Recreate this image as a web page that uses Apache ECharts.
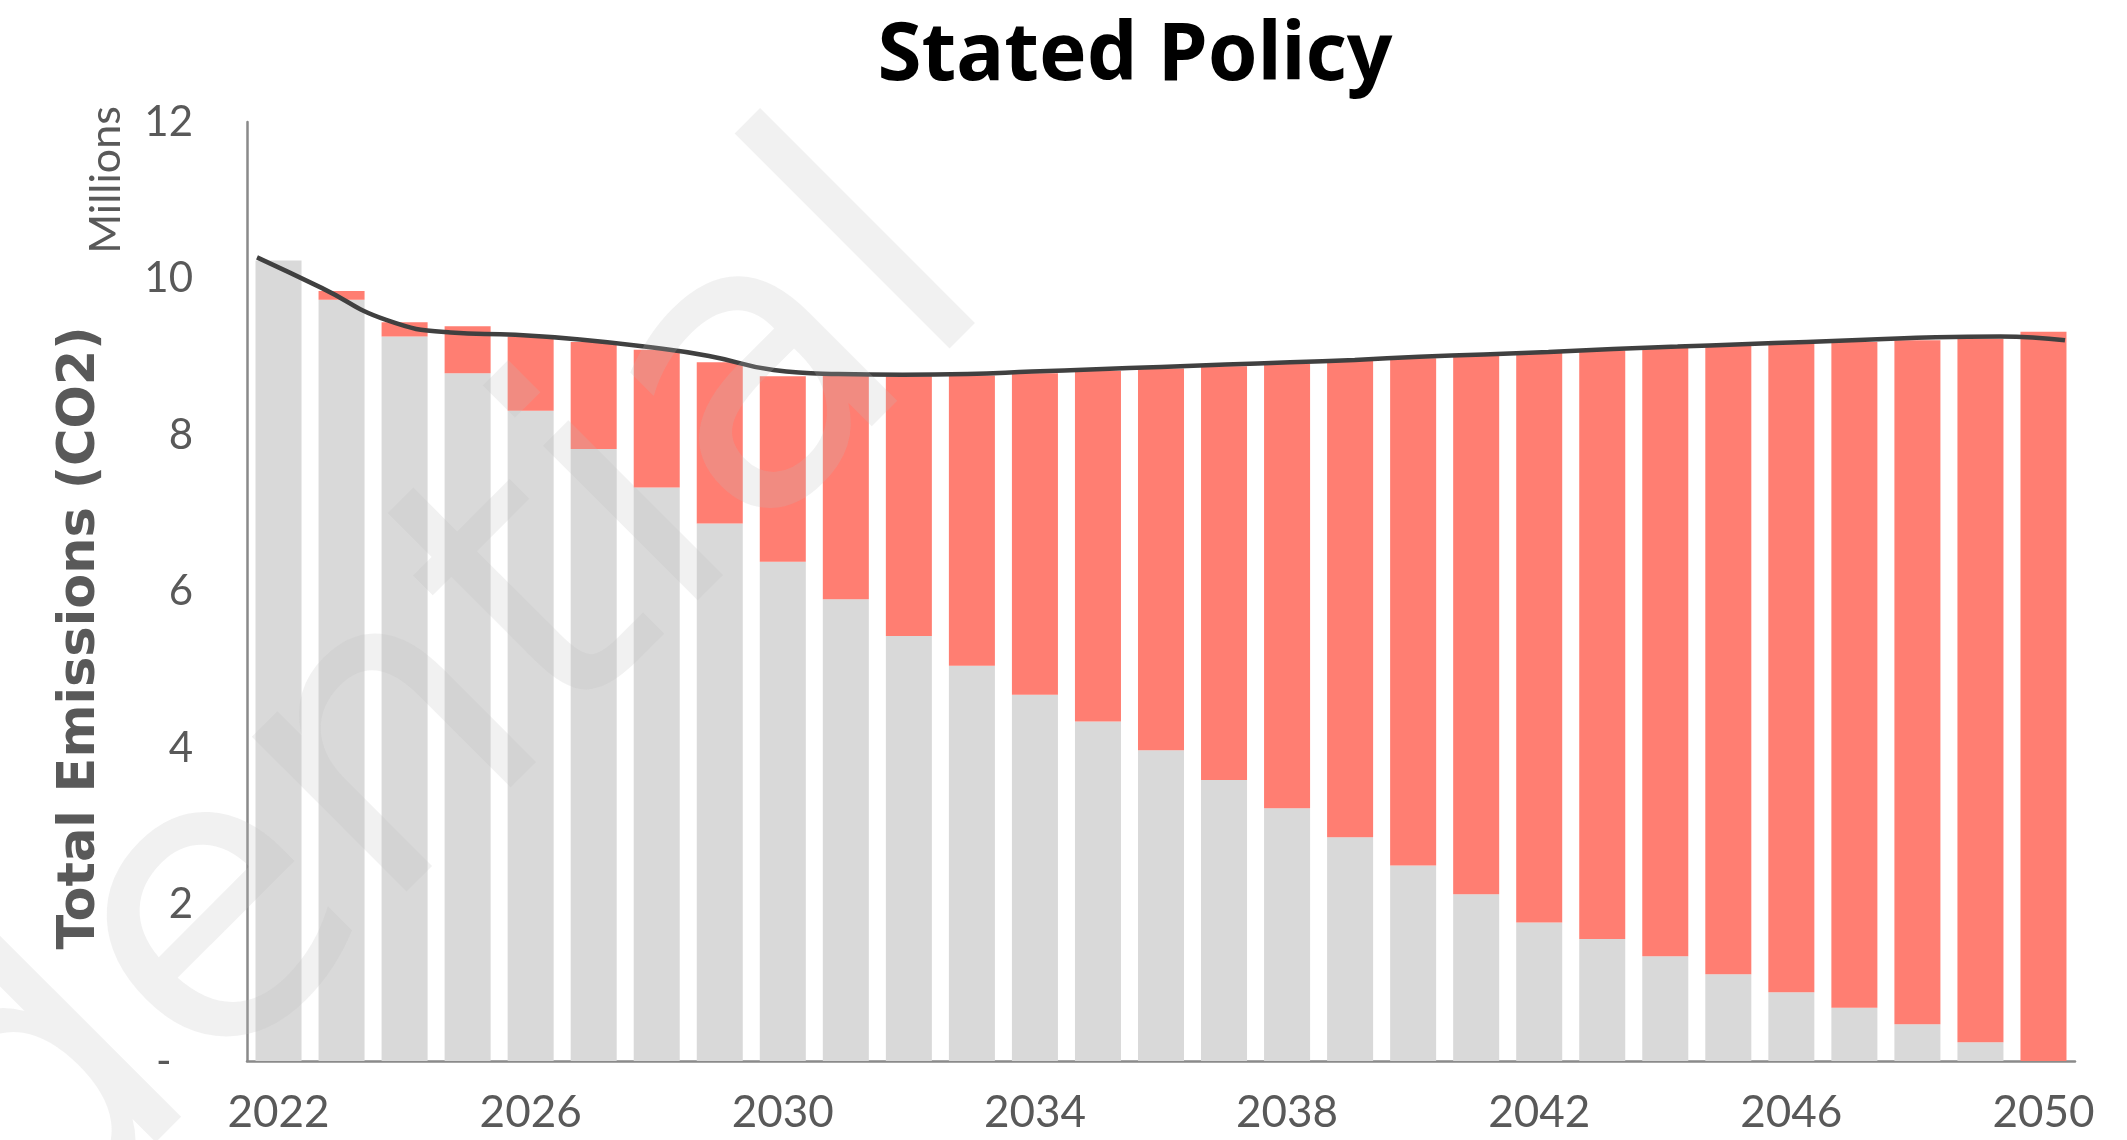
<!DOCTYPE html>
<html>
<head>
<meta charset="utf-8">
<title>Stated Policy</title>
<script src="https://cdn.jsdelivr.net/npm/echarts@6/dist/echarts.min.js"></script>
<style>
  html, body { margin: 0; padding: 0; background: #fff; }
  #box { width: 2127px; height: 1140px; }
</style>
</head>
<body>
<div id="box"></div>
<script>
// years on the category axis
var years = ['2022', '2023', '2024', '2025', '2026', '2027', '2028', '2029', '2030', '2031',
             '2032', '2033', '2034', '2035', '2036', '2037', '2038', '2039', '2040', '2041',
             '2042', '2043', '2044', '2045', '2046', '2047', '2048', '2049', '2050'];

// grey part of each bar (millions)
var greyPart = [10.23, 9.73, 9.26, 8.79, 8.31, 7.82, 7.33, 6.87, 6.38, 5.90,
                5.43, 5.05, 4.68, 4.34, 3.97, 3.59, 3.23, 2.86, 2.50, 2.13,
                1.77, 1.56, 1.34, 1.11, 0.88, 0.68, 0.47, 0.24, 0];

// red part stacked on top (millions)
var redPart = [0, 0.11, 0.18, 0.60, 0.95, 1.37, 1.76, 2.06, 2.37, 2.86,
               3.32, 3.71, 4.11, 4.48, 4.88, 5.29, 5.68, 6.09, 6.48, 6.89,
               7.28, 7.52, 7.78, 8.04, 8.29, 8.51, 8.74, 8.99, 9.32];

// dark line (millions)
var lineValues = [10.27, 9.88, 9.47, 9.31, 9.28, 9.22, 9.13, 9.01, 8.83, 8.78,
                  8.77, 8.78, 8.81, 8.84, 8.87, 8.90, 8.93, 8.96, 9.00, 9.03,
                  9.06, 9.10, 9.13, 9.16, 9.19, 9.22, 9.25, 9.26, 9.21];

var labelFont = 'Lato, "Noto Sans", sans-serif';

var myChart = echarts.init(document.getElementById('box'));
var option = {
  animation: false,
  backgroundColor: '#ffffff',
  title: {
    text: 'Stated Policy',
    left: 1130,
    top: 12,
    textAlign: 'center',
    textStyle: { fontFamily: '"Noto Sans", sans-serif', fontWeight: 'bold', fontSize: 80, color: '#000000' }
  },
  grid: [
    { left: 247, right: 52, top: 122, bottom: 79 },
    { left: 257, right: 62, top: 122, bottom: 79 }
  ],
  xAxis: [
    {
      type: 'category',
      data: years,
      gridIndex: 0,
      axisLine: { lineStyle: { color: '#8a8a8a', width: 2.5 } },
      axisTick: { show: false },
      axisLabel: {
        interval: 3,
        margin: 30,
        color: '#595959',
        fontFamily: labelFont,
        fontSize: 44
      }
    },
    {
      type: 'category',
      data: years,
      gridIndex: 1,
      boundaryGap: false,
      show: false
    }
  ],
  yAxis: [
    {
      type: 'value',
      gridIndex: 0,
      min: 0,
      max: 12,
      interval: 2,
      splitLine: { show: false },
      axisTick: { show: false },
      axisLine: { show: true, lineStyle: { color: '#8a8a8a', width: 2.5 } },
      axisLabel: {
        margin: 54,
        color: '#595959',
        fontFamily: labelFont,
        fontSize: 42,
        formatter: function (v) { return v === 0 ? '-  ' : v; }
      }
    },
    { type: 'value', gridIndex: 1, min: 0, max: 12, show: false }
  ],
  graphic: [
    {
      type: 'text',
      x: 81, y: 638,
      rotation: Math.PI / 2,
      style: {
        text: 'Total Emissions (CO2)',
        font: 'bold 51px "DejaVu Sans", sans-serif',
        fill: '#595959',
        textAlign: 'center',
        textVerticalAlign: 'middle'
      }
    },
    {
      type: 'text',
      x: 106, y: 180,
      rotation: Math.PI / 2,
      style: {
        text: 'Millions',
        font: '43px Lato, "Noto Sans", sans-serif',
        fill: '#595959',
        textAlign: 'center',
        textVerticalAlign: 'middle'
      }
    },
    {
      // faint watermark
      type: 'text',
      x: 928, y: 223,
      rotation: Math.PI / 4,
      z: 100,
      silent: true,
      style: {
        text: 'Confidential',
        font: '400px "DejaVu Sans", sans-serif',
        fill: 'rgba(188,188,188,0.21)',
        textAlign: 'right',
        textVerticalAlign: 'middle'
      }
    }
  ],
  series: [
    {
      type: 'bar',
      stack: 'total',
      data: greyPart,
      barCategoryGap: '27%',
      itemStyle: { color: '#d9d9d9' }
    },
    {
      type: 'bar',
      stack: 'total',
      data: redPart,
      itemStyle: { color: '#ff7e72' }
    },
    {
      type: 'line',
      xAxisIndex: 1,
      yAxisIndex: 1,
      data: lineValues,
      smooth: true,
      symbol: 'none',
      lineStyle: { color: '#404040', width: 4.5 },
      z: 5
    }
  ]
};
myChart.setOption(option);
</script>
</body>
</html>
